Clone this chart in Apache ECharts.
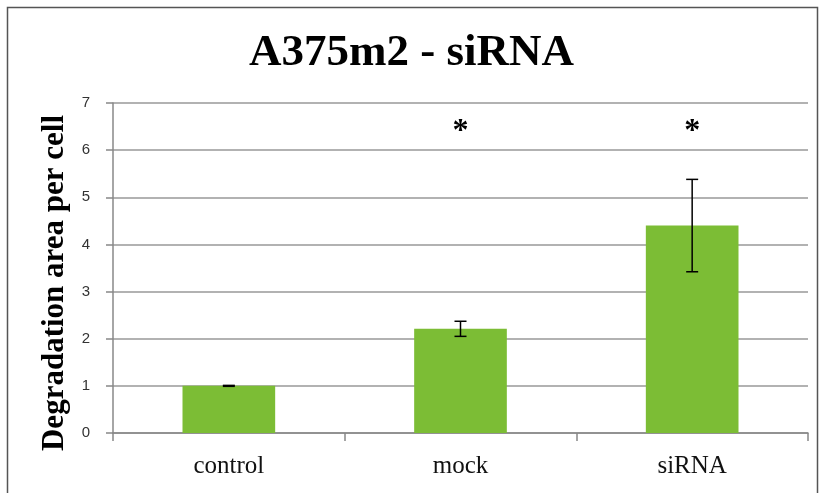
<!DOCTYPE html>
<html><head><meta charset="utf-8">
<script src="https://cdn.jsdelivr.net/npm/echarts@6/dist/echarts.min.js"></script>
<style>html,body{margin:0;padding:0;background:#fff}#c{width:823px;height:493px}</style>
</head><body><div id="c"></div>
<script>
const categories = ['control', 'mock', 'siRNA'];
const means = [1.0, 2.21, 4.40];
const errors = [0.01, 0.16, 0.98];
const sigMarks = ['', '*', '*'];
const sigLevel = 6.38;
const yTicks = [0, 1, 2, 3, 4, 5, 6, 7];

const chart = echarts.init(document.getElementById('c'));
const errData = categories.map((c, i) => [i, means[i] - errors[i], means[i] + errors[i]]);
const sigData = categories.map((c, i) => [i, sigLevel, sigMarks[i]]);

chart.setOption({
  animation: false,
  title: {
    text: 'A375m2 - siRNA', left: 'center', top: 26,
    textStyle: {fontFamily: 'Liberation Serif', fontWeight: 'bold', fontSize: 45, color: '#000'}
  },
  graphic: [{type: 'rect', shape: {x: 7.5, y: 7.5, width: 810, height: 500}, style: {fill: 'none', stroke: '#555', lineWidth: 1.5}, silent: true}],
  grid: {left: 113, right: 15, top: 103, bottom: 60},
  xAxis: {
    type: 'category', data: categories,
    axisLine: {lineStyle: {color: '#888', width: 1.5}},
    axisTick: {show: true, length: 8, lineStyle: {color: '#888', width: 1.5}},
    axisLabel: {fontFamily: 'Liberation Serif', fontSize: 25, color: '#111', margin: 21}
  },
  yAxis: {
    type: 'value', min: yTicks[0], max: yTicks[yTicks.length - 1], interval: 1,
    name: 'Degradation area per cell', nameLocation: 'middle', nameGap: 43,
    nameTextStyle: {fontFamily: 'Liberation Serif', fontWeight: 'bold', fontSize: 31, color: '#000', padding: [0, 30, 0, 0]},
    axisLine: {show: true, lineStyle: {color: '#888', width: 1.5}},
    axisTick: {show: true, length: 7, lineStyle: {color: '#888', width: 1.5}},
    splitLine: {lineStyle: {color: '#999', width: 1.5}},
    axisLabel: {fontFamily: 'Liberation Sans', fontSize: 15, color: '#333', margin: 23}
  },
  series: [
    {type: 'bar', data: means, barWidth: '40%', itemStyle: {color: '#7cbd35'}, z: 2},
    {
      type: 'custom', data: errData, z: 5,
      renderItem: function (params, api) {
        const x = api.coord([api.value(0), 0])[0];
        const lo = api.coord([api.value(0), api.value(1)])[1];
        const hi = api.coord([api.value(0), api.value(2)])[1];
        const w = 6;
        const st = {stroke: '#000', lineWidth: 1.5};
        return {type: 'group', children: [
          {type: 'line', shape: {x1: x, y1: lo, x2: x, y2: hi}, style: st},
          {type: 'line', shape: {x1: x - w, y1: lo, x2: x + w, y2: lo}, style: st},
          {type: 'line', shape: {x1: x - w, y1: hi, x2: x + w, y2: hi}, style: st}
        ]};
      }
    },
    {
      type: 'custom', data: sigData, z: 5,
      renderItem: function (params, api) {
        const p = api.coord([api.value(0), api.value(1)]);
        return {type: 'text', x: p[0], y: p[1], style: {
          text: sigMarks[params.dataIndex], fontFamily: 'Liberation Serif', fontWeight: 'bold',
          fontSize: 32, fill: '#000', align: 'center', verticalAlign: 'middle'}};
      }
    }
  ]
});
</script></body></html>
